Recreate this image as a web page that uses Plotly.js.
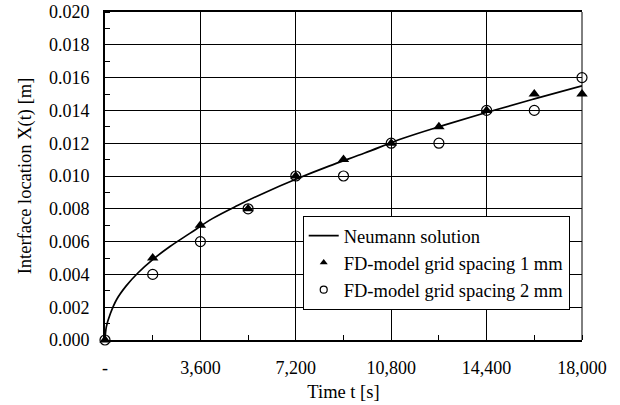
<!DOCTYPE html>
<html>
<head>
<meta charset="utf-8">
<script src="https://cdn.plot.ly/plotly-3.0.1.min.js"></script>
<style>html,body{margin:0;padding:0;background:#fff;}#chart{width:620px;height:405px;}</style>
</head>
<body>
<div id="chart"></div>
<script>
// Neumann solution curve
const neumannT = [0, 50, 200, 450, 800, 1250, 1800, 2450, 3200, 4050, 5000, 6050, 7200, 8450, 9800, 11250, 12800, 14450, 16200, 18000];
const neumannX = [0, 0.0008, 0.0016, 0.0025, 0.0033, 0.0041, 0.0049, 0.0057, 0.0065, 0.0074, 0.0082, 0.0090, 0.0098, 0.0106, 0.0114, 0.0123, 0.0131, 0.0139, 0.0147, 0.0155];

// FD-model results
const fdTime = [0, 1800, 3600, 5400, 7200, 9000, 10800, 12600, 14400, 16200, 18000];
const fd1mm = [0, 0.005, 0.007, 0.008, 0.010, 0.011, 0.012, 0.013, 0.014, 0.015, 0.015];
const fd2mm = [0, 0.004, 0.006, 0.008, 0.010, 0.010, 0.012, 0.012, 0.014, 0.014, 0.016];

const seriesNames = ['Neumann solution', 'FD-model grid spacing 1 mm', 'FD-model grid spacing 2 mm'];

const xTickVals = [0, 3600, 7200, 10800, 14400, 18000];
const xTickText = ['-', '3,600', '7,200', '10,800', '14,400', '18,000'];
const yTickVals = [0, 0.002, 0.004, 0.006, 0.008, 0.010, 0.012, 0.014, 0.016, 0.018, 0.020];
const yTickText = ['0.000', '0.002', '0.004', '0.006', '0.008', '0.010', '0.012', '0.014', '0.016', '0.018', '0.020'];

const FONT = 'Liberation Serif, Times New Roman, serif';

const traces = [
  {x: neumannT, y: neumannX, mode: 'lines', name: seriesNames[0], legendrank: 1,
   line: {color: '#000', width: 1.7, shape: 'spline'}},
  {x: fdTime, y: fd1mm, mode: 'markers', name: seriesNames[1], showlegend: false, cliponaxis: false,
   marker: {symbol: 'triangle-up', size: 10, color: '#000'}},
  {x: fdTime, y: fd2mm, mode: 'markers', name: seriesNames[2], showlegend: false, cliponaxis: false,
   marker: {symbol: 'circle-open', size: 10, color: '#000', line: {width: 1.2, color: '#000'}}},
  // legend-only entries with smaller symbols, as in the reference legend
  {x: [null], y: [null], mode: 'markers', name: seriesNames[1], legendrank: 2,
   marker: {symbol: 'triangle-up', size: 7, color: '#000'}},
  {x: [null], y: [null], mode: 'markers', name: seriesNames[2], legendrank: 3,
   marker: {symbol: 'circle-open', size: 7, color: '#000', line: {width: 1.2, color: '#000'}}}
];

const layout = {
  width: 620, height: 405,
  margin: {l: 105, r: 38, t: 12, b: 65},
  paper_bgcolor: '#fff', plot_bgcolor: '#fff',
  font: {family: FONT, size: 18, color: '#000'},
  showlegend: true,
  legend: {x: 0.4145, y: 0.378, xanchor: 'left', yanchor: 'top',
    bgcolor: '#fff', bordercolor: '#000', borderwidth: 1,
    font: {family: FONT, size: 18.5, color: '#000'}, itemwidth: 30, tracegroupgap: 0},
  xaxis: {range: [0, 18000], tickmode: 'array', tickvals: xTickVals, ticktext: xTickText,
    showgrid: true, gridcolor: '#000', gridwidth: 1,
    showline: true, linecolor: '#000', linewidth: 2, mirror: true,
    ticks: '', ticklabelstandoff: 10, zeroline: false,
    minor: {dtick: 1800, ticks: 'inside', ticklen: 5, tickcolor: '#000', tickwidth: 1, showgrid: false},
    title: {text: 'Time t [s]', font: {family: FONT, size: 18.5}, standoff: 8}},
  yaxis: {range: [0, 0.020], tickmode: 'array', tickvals: yTickVals, ticktext: yTickText,
    showgrid: true, gridcolor: '#000', gridwidth: 1,
    showline: true, linecolor: '#000', linewidth: 2, mirror: false,
    ticks: '', ticklabelstandoff: 10, zeroline: false,
    minor: {dtick: 0.001, ticks: 'inside', ticklen: 5, tickcolor: '#000', tickwidth: 1, showgrid: false},
    title: {text: 'Interface location X(t) [m]', font: {family: FONT, size: 18.5}, standoff: 12}},
  shapes: [{type: 'line', xref: 'paper', yref: 'paper', x0: 1, x1: 1, y0: 0, y1: 1,
    line: {color: '#000', width: 1}}]
};

Plotly.newPlot('chart', traces, layout, {displayModeBar: false, staticPlot: true});
</script>
</body>
</html>
